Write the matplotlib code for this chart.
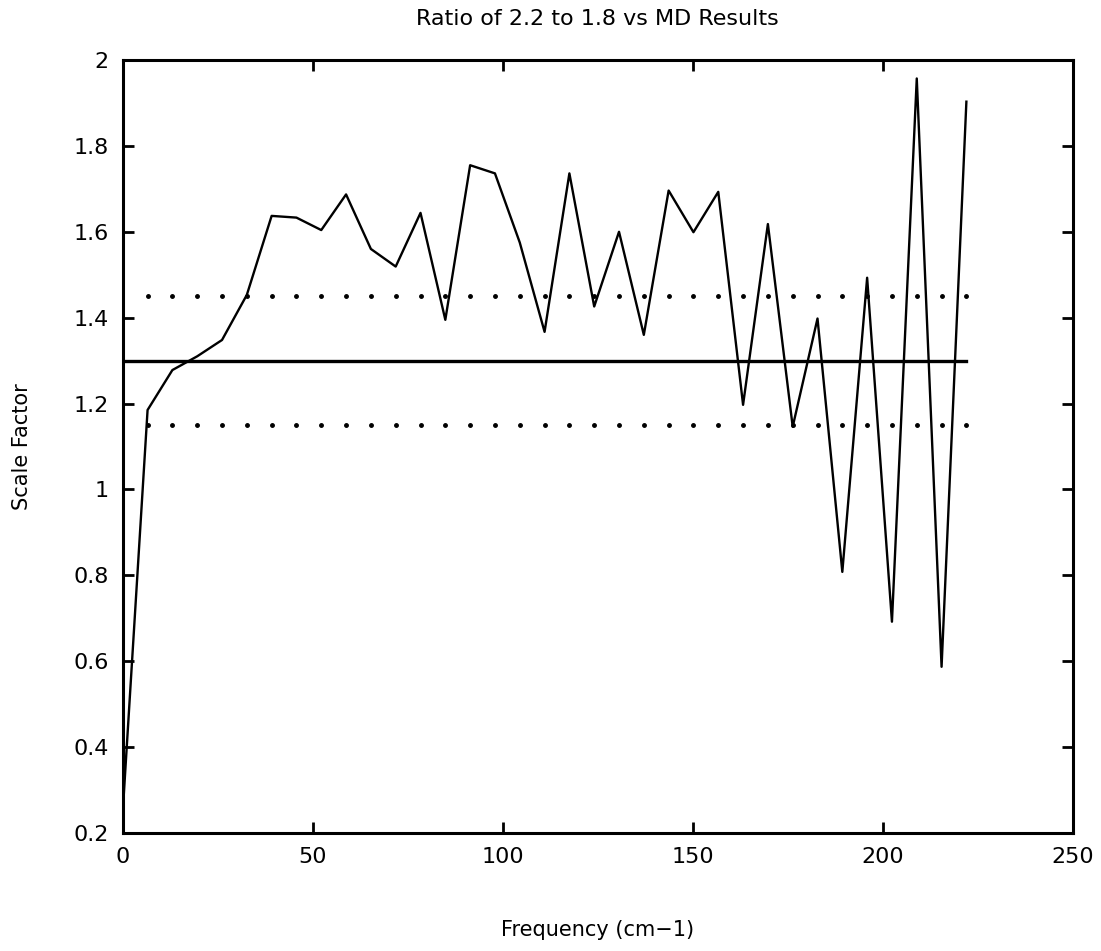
import numpy as np
import matplotlib
matplotlib.use("Agg")
import matplotlib.pyplot as plt

# frequency points (cm-1) and the ratio
freq = np.arange(35) * 6.53
ratio = [0.25, 1.185, 1.278, 1.31, 1.348, 1.453, 1.637, 1.633, 1.604, 1.687,
         1.56, 1.519, 1.644, 1.395, 1.755, 1.736, 1.575, 1.367, 1.736, 1.426,
         1.60, 1.36, 1.696, 1.599, 1.693, 1.197, 1.618, 1.146, 1.398, 0.808,
         1.493, 0.692, 1.957, 0.587, 1.903]

mean_val = 1.3
band_hi = 1.45
band_lo = 1.15

xticks = [0, 50, 100, 150, 200, 250]
yticks = [0.2, 0.4, 0.6, 0.8, 1.0, 1.2, 1.4, 1.6, 1.8, 2.0]
ytick_labels = ["0.2", "0.4", "0.6", "0.8", "1", "1.2", "1.4", "1.6", "1.8", "2"]

fig = plt.figure(figsize=(11.01, 9.51), dpi=100)
ax = fig.add_axes([0.1115, 0.1241, 0.8628, 0.8128])

ax.plot(freq, ratio, color="black", lw=1.7)
ax.plot([freq[0], freq[-1]], [mean_val, mean_val], color="black", lw=2.4)
ax.plot(freq[1:], [band_hi] * (len(freq) - 1), "k.", ms=5)
ax.plot(freq[1:], [band_lo] * (len(freq) - 1), "k.", ms=5)

ax.set_xlim(0, 250)
ax.set_ylim(0.2, 2)
ax.set_xticks(xticks)
ax.set_yticks(yticks)
ax.set_yticklabels(ytick_labels)
ax.tick_params(direction="in", length=8, width=2, top=True, right=True,
               labelsize=16, pad=10)
for s in ax.spines.values():
    s.set_linewidth(2.2)

ax.set_title("Ratio of 2.2 to 1.8 vs MD Results", fontsize=16, pad=25)
ax.set_xlabel("Frequency (cm\u22121)", fontsize=15, labelpad=38)
ax.set_ylabel("Scale Factor", fontsize=15, labelpad=30)

fig.savefig("out.png", dpi=100)
